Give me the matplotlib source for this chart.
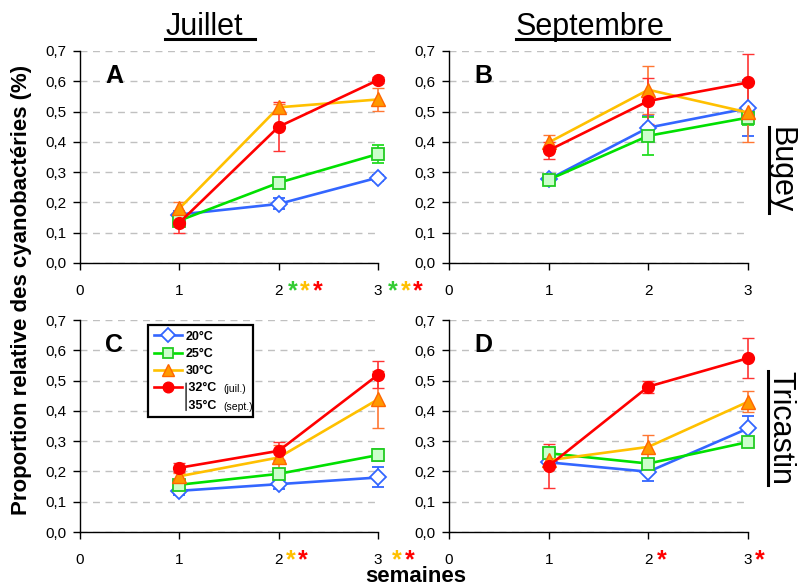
import matplotlib
matplotlib.use('Agg')
import matplotlib.pyplot as plt
from matplotlib.lines import Line2D

plt.rcParams['font.family'] = ['Liberation Sans', 'DejaVu Sans']

# ---------------- data ----------------
weeks = [1, 2, 3]
xticks = [0, 1, 2, 3]
yticks = [0.0, 0.1, 0.2, 0.3, 0.4, 0.5, 0.6, 0.7]
ytick_labels = ['0,0', '0,1', '0,2', '0,3', '0,4', '0,5', '0,6', '0,7']
legend_labels = ['20°C', '25°C', '30°C', ' 32°C', ' 35°C']

# A : Bugey, juillet (20, 25, 30, 32 °C)
a_20 = [0.160, 0.195, 0.282]; a_20_err = [0.012, 0.018, 0.010]
a_25 = [0.140, 0.265, 0.360]; a_25_err = [0.012, 0.010, 0.030]
a_30 = [0.180, 0.514, 0.540]; a_30_err = [0.022, 0.012, 0.037]
a_32 = [0.133, 0.450, 0.604]; a_32_err = [0.035, 0.080, 0.010]

# B : Bugey, septembre (20, 25, 30, 35 °C)
b_20 = [0.276, 0.447, 0.511]; b_20_err = [0.010, 0.040, 0.092]
b_25 = [0.275, 0.420, 0.480]; b_25_err = [0.010, 0.062, 0.025]
b_30 = [0.398, 0.572, 0.497]; b_30_err = [0.025, 0.080, 0.097]
b_35 = [0.372, 0.535, 0.596]; b_35_err = [0.028, 0.077, 0.095]

# C : Tricastin, juillet
c_20 = [0.136, 0.158, 0.180]; c_20_err = [0.015, 0.015, 0.033]
c_25 = [0.156, 0.192, 0.254]; c_25_err = [0.012, 0.012, 0.020]
c_30 = [0.184, 0.246, 0.438]; c_30_err = [0.012, 0.040, 0.095]
c_32 = [0.212, 0.268, 0.519]; c_32_err = [0.015, 0.030, 0.045]

# D : Tricastin, septembre
d_20 = [0.230, 0.199, 0.342]; d_20_err = [0.015, 0.030, 0.040]
d_25 = [0.260, 0.226, 0.297]; d_25_err = [0.020, 0.010, 0.010]
d_30 = [0.237, 0.281, 0.430]; d_30_err = [0.020, 0.040, 0.035]
d_35 = [0.218, 0.480, 0.574]; d_35_err = [0.072, 0.020, 0.065]

# significance stars under week ticks (colour per series)
GREEN, YELLOW, RED = '#33CC33', '#FFC000', '#FF0000'
sig_a = {2: [GREEN, YELLOW, RED], 3: [GREEN, YELLOW, RED]}
sig_b = {}
sig_c = {2: [YELLOW, RED], 3: [YELLOW, RED]}
sig_d = {2: [RED], 3: [RED]}

# ---------------- styles ----------------
styles = [
    dict(color='#3366FF', marker='D', mfc='white', mec='#3366FF', ms=8, mew=1.3, ecolor='#3366FF'),
    dict(color='#00E000', marker='s', mfc='#CCFFCC', mec='#22CC22', ms=8.5, mew=1.3, ecolor='#22DD22'),
    dict(color='#FFC000', marker='^', mfc='#FF9900', mec='#FF6600', ms=10, mew=1.0, ecolor='#FF7733'),
    dict(color='#FF0000', marker='o', mfc='#FF0000', mec='#FF0000', ms=8.5, mew=1.0, ecolor='#FF3333'),
]

fig = plt.figure(figsize=(7.98, 5.87), dpi=100)
W, H = 798, 587

def ax_rect(left, top, right, bottom):
    return [left / W, (H - bottom) / H, (right - left) / W, (bottom - top) / H]

panels = [
    ('A', ax_rect(80, 51, 378, 263), [(a_20, a_20_err), (a_25, a_25_err), (a_30, a_30_err), (a_32, a_32_err)], sig_a, {2: 14, 3: 15}),
    ('B', ax_rect(449, 51, 748, 263), [(b_20, b_20_err), (b_25, b_25_err), (b_30, b_30_err), (b_35, b_35_err)], sig_b, {}),
    ('C', ax_rect(80, 320, 378, 532), [(c_20, c_20_err), (c_25, c_25_err), (c_30, c_30_err), (c_32, c_32_err)], sig_c, {2: 12, 3: 19}),
    ('D', ax_rect(449, 320, 748, 532), [(d_20, d_20_err), (d_25, d_25_err), (d_30, d_30_err), (d_35, d_35_err)], sig_d, {2: 13, 3: 12}),
]

axes = {}
for letter, rect, series, sig, starts in panels:
    ax = fig.add_axes(rect)
    axes[letter] = ax
    for (vals, errs), st in zip(series, styles):
        ax.errorbar(weeks, vals, yerr=errs, color=st['color'], lw=1.9,
                    marker=st['marker'], mfc=st['mfc'], mec=st['mec'], ms=st['ms'], mew=st['mew'],
                    ecolor=st['ecolor'], elinewidth=1.2, capsize=4, capthick=1.2,
                    clip_on=False, zorder=3)
    ax.set_xlim(0, 3)
    ax.set_ylim(0, 0.7)
    ax.set_xticks(xticks)
    ax.set_xticklabels([str(t) for t in xticks])
    ax.set_yticks(yticks)
    ax.set_yticklabels(ytick_labels)
    for s in ('top', 'right'):
        ax.spines[s].set_visible(False)
    for s in ('left', 'bottom'):
        ax.spines[s].set_linewidth(1.0)
        ax.spines[s].set_color('black')
    ax.yaxis.grid(True, linestyle=(0, (5, 4)), color='#C0C0C0', lw=1.0)
    ax.set_axisbelow(True)
    ax.tick_params(axis='both', direction='out', length=5, width=1, labelsize=11, colors='black')
    ax.tick_params(axis='y', pad=5)
    ax.tick_params(axis='x', pad=10)
    ax.text(0.084, 0.849, letter, transform=ax.transAxes, fontsize=18, fontweight='bold',
            ha='left', va='baseline')
    for wk, cols in sig.items():
        for i, c in enumerate(cols):
            ax.annotate('*', xy=(wk, 0), xycoords=('data', 'axes fraction'),
                        xytext=(starts[wk] + 12.5 * i, -35), textcoords='offset pixels',
                        ha='center', va='baseline', fontsize=18, fontweight='bold',
                        color=c, annotation_clip=False)

# ---------------- legend in panel C ----------------
axC = axes['C']
handles = [Line2D([], [], color=st['color'], lw=1.9, marker=st['marker'], mfc=st['mfc'],
                  mec=st['mec'], ms=st['ms'] * 0.9, mew=st['mew']) for st in styles]
handles.append(Line2D([], [], linestyle='none'))
leg = axC.legend(handles, legend_labels, loc='upper left',
                 bbox_to_anchor=(0.228, 0.538, 0.352, 0.438), mode='expand',
                 prop=dict(size=9, weight='bold'), frameon=True, fancybox=False,
                 edgecolor='black', framealpha=1, handlelength=2.3, handletextpad=0.25,
                 labelspacing=0.42, borderpad=0.45, borderaxespad=0)
leg.get_frame().set_linewidth(1.6)
leg.set_zorder(5)
texts = leg.get_texts()
axC.annotate('(juil.)', xy=(1, 0), xycoords=texts[3], xytext=(5, 0), textcoords='offset points',
             fontsize=7.5, va='bottom', ha='left', zorder=7, annotation_clip=False)
axC.annotate('(sept.)', xy=(1, 0), xycoords=texts[4], xytext=(5, 0), textcoords='offset points',
             fontsize=7.5, va='bottom', ha='left', zorder=7, annotation_clip=False)
axC.annotate('', xy=(0.02, 0.95), xycoords=texts[3], xytext=(0.02, 0.1), textcoords=texts[4],
             arrowprops=dict(arrowstyle='-', color='black', lw=0.9, shrinkA=0, shrinkB=0),
             zorder=7, annotation_clip=False)

# ---------------- titles and labels ----------------
t_jul = fig.text(204 / W, 1 - 35 / H, 'Juillet', ha='center', va='baseline', fontsize=22)
t_sep = fig.text(590 / W, 1 - 35 / H, 'Septembre', ha='center', va='baseline', fontsize=22)
t_bug = fig.text(773 / W, 1 - 170 / H, 'Bugey', rotation=270, rotation_mode='anchor',
                 ha='center', va='baseline', fontsize=22)
t_tri = fig.text(772 / W, 1 - 428 / H, 'Tricastin', rotation=270, rotation_mode='anchor',
                 ha='center', va='baseline', fontsize=22)
fig.text(22 / W, 1 - 290 / H, 'Proportion relative des cyanobactéries (%)', rotation=90,
         ha='center', va='center', fontsize=16, fontweight='bold')
fig.text(416 / W, 1 - 582 / H, 'semaines', ha='center', va='baseline', fontsize=16,
         fontweight='bold')

fig.canvas.draw()
renderer = fig.canvas.get_renderer()
inv = fig.transFigure.inverted()

def hline(x0, x1, y):
    (fx0, fy), (fx1, _) = inv.transform([(x0, y), (x1, y)])
    fig.add_artist(Line2D([fx0, fx1], [fy, fy], color='black', lw=2.2, transform=fig.transFigure))

def vline(x, y0, y1):
    (fx, fy0), (_, fy1) = inv.transform([(x, y0), (x, y1)])
    fig.add_artist(Line2D([fx, fx], [fy0, fy1], color='black', lw=2.2, transform=fig.transFigure))

for t, extra in ((t_jul, 12), (t_sep, 5)):
    bb = t.get_window_extent(renderer)
    base = H - 35
    hline(bb.x0, bb.x1 + extra, base - 4)
for t, xb in ((t_bug, 773), (t_tri, 772)):
    bb = t.get_window_extent(renderer)
    vline(xb - 4.5, bb.y0, bb.y1)

fig.savefig('out.png', dpi=100)
